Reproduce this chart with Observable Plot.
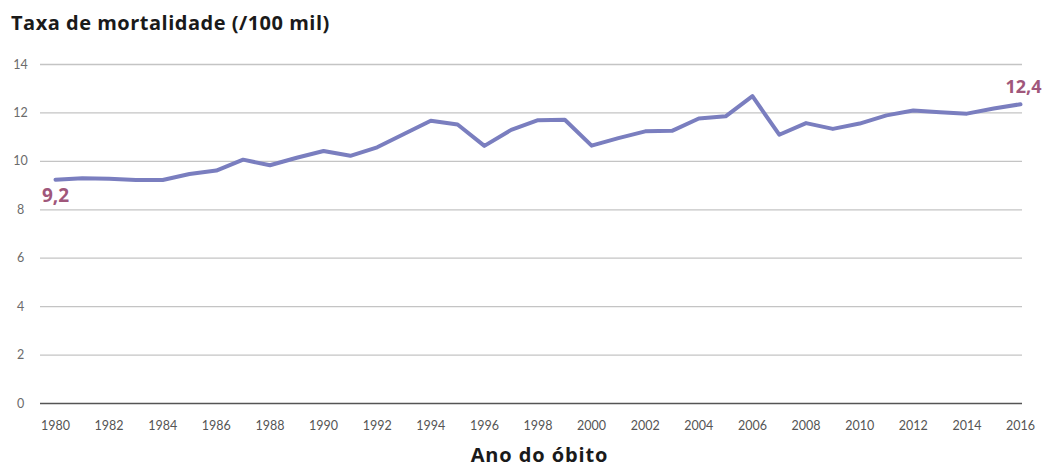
<!DOCTYPE html>
<html>
<head>
<meta charset="utf-8">
<script src="https://cdn.jsdelivr.net/npm/d3@7"></script>
<script src="https://cdn.jsdelivr.net/npm/@observablehq/plot@0.6"></script>
<style>
  html, body { margin: 0; padding: 0; background: #fff; }
  body { width: 1042px; height: 468px; overflow: hidden; font-family: "Open Sans", Lato, sans-serif; }
  #title { height: 44px; box-sizing: border-box; padding: 10px 0 0 11px; font-size: 20px; font-weight: 700; color: #1a1a1a; letter-spacing: 0.5px; line-height: 26px; }
  #chart svg { display: block; }
  #chart svg [aria-label="x-axis label"] text { font-size: 20px; font-weight: 700; fill: #1a1a1a; letter-spacing: 0.9px; font-family: "Open Sans", sans-serif; }
</style>
</head>
<body>
<div id="title">Taxa de mortalidade (/100 mil)</div>
<div id="chart"></div>
<script>
const years = d3.range(1980, 2017);
const rates = [
  9.24, 9.30, 9.28, 9.23, 9.23, 9.48, 9.62, 10.07, 9.84, 10.15,
  10.43, 10.23, 10.58, 11.13, 11.68, 11.52, 10.64, 11.30, 11.70, 11.72,
  10.65, 10.96, 11.24, 11.26, 11.77, 11.86, 12.69, 11.10, 11.58, 11.34,
  11.56, 11.90, 12.10, 12.03, 11.97, 12.18, 12.36
];
const yTicks = [0, 2, 4, 6, 8, 10, 12, 14];
const xTicks = d3.range(1980, 2017, 2);
const xLabel = "Ano do óbito";

const data = years.map((year, i) => ({year, rate: rates[i]}));
const first = [data[0]];
const last = [data[data.length - 1]];
const fmt = d => d.rate.toFixed(1).replace(".", ",");

const lineColor = "#7a7ebf";
const labelColor = "#a0577b";

const plot = Plot.plot({
  width: 1042,
  height: 424,
  marginTop: 20,
  marginLeft: 40,
  marginRight: 20,
  marginBottom: 65,
  style: {fontFamily: "Lato, 'Open Sans', sans-serif", fontSize: "12.5px", color: "#555"},
  x: {domain: [1980, 2016], insetLeft: 15, insetRight: 2},
  y: {domain: [0, 14]},
  marks: [
    Plot.ruleY(yTicks.filter(d => d > 0), {stroke: "#c4c4c4", strokeWidth: 1.3}),
    Plot.ruleY([0], {stroke: "#555", strokeWidth: 1.6}),
    Plot.axisY(yTicks, {tickSize: 0, tickPadding: 20, textAnchor: "middle", label: null, fill: "#6b6b6b"}),
    Plot.axisX(xTicks, {tickSize: 0, tickPadding: 18, tickFormat: d => String(d), label: xLabel, labelAnchor: "center", labelOffset: 58, labelArrow: "none", fill: "#555"}),
    Plot.line(data, {x: "year", y: "rate", stroke: lineColor, strokeWidth: 4, strokeLinejoin: "round"}),
    Plot.text(first, {x: "year", y: "rate", text: fmt, dy: 16, textAnchor: "middle", fill: labelColor, fontSize: 19, fontWeight: 700, fontFamily: "'Open Sans', sans-serif", style: "letter-spacing:0.6px"}),
    Plot.text(last, {x: "year", y: "rate", text: fmt, dy: -17, dx: 21, textAnchor: "end", fill: labelColor, fontSize: 18, fontWeight: 700, fontFamily: "'Open Sans', sans-serif"})
  ]
});
const lbl = plot.querySelector('[aria-label="x-axis label"] text');
if (lbl) lbl.setAttribute("dx", "8");
document.getElementById("chart").appendChild(plot);
</script>
</body>
</html>
